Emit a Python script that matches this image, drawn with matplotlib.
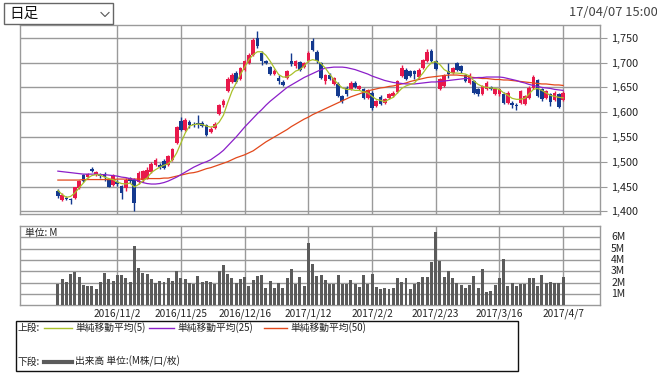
import matplotlib
matplotlib.use("Agg")
import matplotlib.pyplot as plt
from matplotlib.lines import Line2D
from matplotlib.patches import Rectangle
import numpy as np

plt.rcParams['font.family'] = ['Noto Sans CJK JP', 'DejaVu Sans']

# ---------------- data ----------------
opens = [1440,1422,1427,1424,1427,1447,1474,1469,1486,1474,
         1475,1474,1464,1454,1459,1451,1447,1467,1464,1459,
         1464,1467,1479,1494,1494,1501,1494,1504,1538,1582,
         1565,1580,1577,1579,1579,1575,1560,1568,1597,1614,
         1642,1661,1679,1666,1686,1699,1716,1750,1720,1704,
         1691,1678,1670,1661,1669,1703,1693,1701,1691,1703,
         1743,1722,1700,1662,1676,1657,1657,1632,1649,1646,
         1659,1646,1646,1629,1639,1612,1631,1619,1629,1632,
         1640,1673,1686,1684,1683,1671,1689,1703,1724,1703,
         1646,1652,1684,1679,1700,1693,1675,1659,1662,1646,
         1636,1646,1650,1637,1636,1637,1619,1619,1615,1619,
         1617,1629,1649,1664,1646,1629,1636,1625,1636,1625]
highs = [1445,1436,1430,1426,1450,1464,1476,1478,1489,1481,
         1478,1479,1466,1476,1463,1453,1467,1470,1468,1482,
         1484,1490,1500,1508,1497,1505,1513,1528,1573,1590,
         1588,1585,1580,1594,1582,1577,1570,1580,1617,1626,
         1671,1679,1683,1692,1706,1719,1749,1763,1723,1706,
         1693,1687,1675,1664,1686,1720,1706,1704,1702,1723,
         1749,1725,1702,1678,1680,1671,1660,1634,1652,1663,
         1662,1655,1649,1646,1642,1625,1634,1628,1639,1642,
         1665,1696,1689,1686,1686,1689,1708,1727,1728,1705,
         1669,1678,1700,1692,1702,1696,1678,1679,1665,1649,
         1655,1663,1653,1649,1648,1640,1642,1622,1618,1645,
         1635,1652,1675,1667,1649,1645,1639,1642,1639,1642]
lows = [1426,1420,1422,1414,1425,1445,1459,1467,1479,1472,
        1468,1461,1448,1452,1452,1424,1440,1458,1401,1455,
        1460,1465,1477,1492,1486,1485,1492,1502,1535,1562,
        1562,1568,1571,1568,1570,1551,1558,1566,1595,1611,
        1640,1658,1659,1664,1684,1697,1713,1730,1696,1698,
        1676,1676,1657,1652,1667,1693,1690,1684,1689,1701,
        1724,1700,1667,1656,1664,1655,1630,1618,1633,1644,
        1648,1644,1627,1627,1605,1610,1614,1617,1627,1630,
        1638,1671,1664,1671,1666,1669,1687,1701,1702,1686,
        1644,1650,1669,1677,1684,1680,1660,1657,1636,1632,
        1634,1644,1644,1635,1633,1617,1617,1609,1605,1617,
        1615,1627,1647,1630,1623,1627,1612,1623,1609,1623]
closes = [1430,1433,1424,1422,1448,1462,1461,1476,1481,1479,
          1471,1469,1450,1474,1456,1437,1464,1461,1417,1478,
          1481,1484,1496,1504,1489,1488,1511,1525,1570,1565,
          1585,1575,1574,1576,1572,1553,1567,1577,1614,1622,
          1668,1676,1661,1689,1703,1716,1746,1733,1703,1700,
          1678,1684,1662,1654,1684,1697,1703,1686,1699,1720,
          1726,1703,1669,1676,1666,1669,1632,1623,1636,1659,
          1650,1652,1629,1644,1609,1622,1617,1626,1636,1639,
          1662,1690,1666,1673,1677,1686,1705,1722,1704,1688,
          1666,1675,1677,1689,1686,1683,1662,1676,1639,1636,
          1652,1659,1646,1646,1646,1619,1639,1614,1613,1642,
          1632,1649,1671,1632,1626,1642,1621,1639,1611,1639]

ma5 = [1442,1434,1428,1430,1437,1447,1457,1467,1472,1474,
       1473,1469,1466,1464,1459,1456,1455,1457,1449,1454,
       1461,1467,1478,1484,1489,1493,1496,1504,1518,1538,
       1558,1572,1575,1576,1575,1572,1570,1572,1580,1594,
       1619,1642,1659,1676,1691,1706,1716,1722,1722,1715,
       1703,1689,1676,1671,1671,1676,1683,1686,1693,1703,
       1706,1704,1698,1689,1677,1666,1657,1649,1646,1646,
       1644,1644,1641,1639,1632,1626,1624,1621,1626,1630,
       1639,1648,1653,1656,1659,1669,1679,1691,1700,1702,
       1696,1686,1681,1679,1679,1678,1677,1673,1663,1656,
       1652,1650,1649,1648,1646,1639,1634,1628,1626,1626,
       1628,1637,1646,1648,1644,1639,1634,1632,1630,1629]
ma25 = [1481,1480,1479,1478,1477,1476,1475,1475,1475,1475,
        1474,1474,1473,1472,1471,1469,1468,1466,1464,1461,
        1458,1456,1455,1455,1456,1458,1461,1465,1469,1474,
        1479,1484,1489,1493,1497,1500,1504,1510,1516,1523,
        1532,1541,1550,1560,1570,1579,1588,1597,1605,1614,
        1622,1629,1636,1643,1650,1655,1660,1665,1670,1674,
        1678,1682,1686,1689,1690,1691,1691,1691,1690,1688,
        1686,1683,1680,1677,1673,1670,1667,1664,1662,1660,
        1659,1658,1657,1657,1657,1658,1659,1660,1661,1661,
        1662,1663,1664,1665,1666,1667,1668,1668,1669,1670,
        1670,1671,1671,1671,1671,1670,1668,1666,1664,1661,
        1659,1656,1654,1652,1650,1649,1648,1646,1645,1644]
ma50 = [1463,1463,1463,1463,1463,1463,1464,1464,1464,1464,
        1464,1464,1464,1464,1465,1465,1465,1465,1465,1465,
        1465,1466,1466,1466,1466,1467,1467,1469,1471,1473,
        1475,1477,1478,1480,1483,1486,1488,1491,1494,1497,
        1500,1504,1508,1511,1514,1518,1522,1528,1534,1540,
        1545,1550,1555,1560,1565,1571,1576,1581,1586,1590,
        1595,1599,1603,1607,1611,1615,1619,1623,1627,1631,
        1634,1637,1640,1643,1645,1647,1649,1650,1652,1653,
        1655,1657,1659,1662,1664,1666,1668,1670,1671,1672,
        1673,1674,1675,1675,1675,1674,1673,1671,1670,1669,
        1668,1668,1667,1666,1666,1665,1665,1664,1663,1662,
        1661,1660,1659,1658,1657,1657,1656,1655,1655,1654]

volume_m = [1.88,2.3,2.06,2.76,2.97,2.5,1.8,1.7,1.7,1.44,
            2.06,2.85,2.3,2.15,2.68,2.68,2.4,2.06,5.24,3.3,
            2.85,2.76,2.3,1.97,2.15,2.06,2.4,2.15,3.03,2.4,
            2.3,1.97,1.88,2.6,2.06,2.15,2.06,1.88,3.03,3.56,
            2.76,2.4,1.97,2.3,2.5,1.7,2.24,2.6,2.68,1.53,
            2.15,1.53,1.97,1.53,2.4,3.2,1.88,2.5,1.7,5.5,
            3.65,2.6,2.68,2.24,1.88,1.9,2.7,1.9,1.9,2.2,
            1.9,1.6,2.7,1.9,2.8,1.6,1.4,1.5,1.4,1.5,
            2.4,2.1,2.4,1.4,1.9,2.1,2.5,2.5,3.8,6.5,
            3.9,2.5,3.0,2.4,2.0,1.8,1.5,1.8,2.6,1.5,
            3.2,1.2,1.3,1.8,2.4,4.1,1.7,2.0,1.7,1.9,
            1.9,2.4,2.4,1.7,2.7,2.0,2.1,2.0,2.0,2.5]

date_tick_index = [14, 29, 44, 59, 74, 89, 104, 119]
date_tick_labels = ['2016/11/2', '2016/11/25', '2016/12/16', '2017/1/12',
                    '2017/2/2', '2017/2/23', '2017/3/16', '2017/4/7']
price_ticks = [1400, 1450, 1500, 1550, 1600, 1650, 1700, 1750]
volume_ticks = [1, 2, 3, 4, 5, 6]

# ---------------- style ----------------
RED = '#e8194b'
BLUE = '#14398f'
C_MA5 = '#a9c12a'
C_MA25 = '#8b1fc9'
C_MA50 = '#e2481b'
GRID = '#9a9a9a'
VOLC = '#5b5b5b'

W, H = 657, 375
fig = plt.figure(figsize=(W / 100, H / 100), dpi=100)
fig.patch.set_facecolor('white')


def fx(px):
    return px / W


def fy(py):
    return 1 - py / H


ax = fig.add_axes([fx(20), fy(214), 580 / W, 189 / H])
axv = fig.add_axes([fx(20), fy(305.3), 580 / W, 79.3 / H])

o = np.array(opens, float)
h = np.array(highs, float)
l = np.array(lows, float)
c = np.array(closes, float)
idx = np.arange(len(c))
cols = np.where(c >= o, RED, BLUE)

ax.vlines(idx, l, h, colors=cols, linewidth=1.0, zorder=3)
ax.bar(idx, np.maximum(np.abs(c - o), 1.5), bottom=np.minimum(o, c),
       width=0.86, color=cols, linewidth=0, zorder=3)
ax.plot(idx, ma50, color=C_MA50, lw=0.9, zorder=4)
ax.plot(idx, ma25, color=C_MA25, lw=0.9, zorder=4)
ax.plot(idx, ma5, color=C_MA5, lw=0.9, zorder=4)

xl = (-8.92, 127.7)
for a in (ax, axv):
    a.set_xlim(*xl)
    a.set_xticks(date_tick_index)
    a.grid(True, color=GRID, lw=1.0, zorder=0)
    a.set_axisbelow(True)
    for s in a.spines.values():
        s.set_color(GRID)
        s.set_linewidth(1.0)
    a.yaxis.tick_right()
    a.set_facecolor('white')

ax.set_ylim(1394.5, 1776)
ax.set_yticks(price_ticks)
ax.set_yticklabels([f'{v:,}' for v in price_ticks])
ax.tick_params(axis='y', direction='out', length=5, color=GRID,
               labelsize=7.8, pad=3, labelcolor='#222222')
ax.tick_params(axis='x', length=0, labelbottom=False)

axv.bar(idx, volume_m, width=0.7, color=VOLC, linewidth=0, zorder=3)
axv.set_ylim(0, 7)
axv.set_yticks(volume_ticks)
axv.set_yticklabels([f'{v}M' for v in volume_ticks])
axv.tick_params(axis='y', length=0, labelsize=7.5, pad=8, labelcolor='#222222')
axv.set_xticklabels(date_tick_labels)
axv.tick_params(axis='x', length=0, labelsize=7.3, pad=2, labelcolor='#222222')
for t in axv.get_yticklabels():
    t.set_verticalalignment('center')

fig.text(fx(25), fy(233), '単位: M', fontsize=7, ha='left', va='center', color='#222222')

# legend box
fig.add_artist(Rectangle((fx(16), fy(371)), 502 / W, 50 / H, transform=fig.transFigure,
                         fill=False, edgecolor='#111111', lw=1.0))
ly1, ly2 = fy(327.7), fy(361.7)
fig.text(fx(18), ly1, '上段:', fontsize=7, va='center', ha='left', color='#222222')
fig.text(fx(18), ly2, '下段:', fontsize=7, va='center', ha='left', color='#222222')
for (x0, x1, col, label) in [(44, 72, C_MA5, '単純移動平均(5)'),
                             (149, 174, C_MA25, '単純移動平均(25)'),
                             (264, 287, C_MA50, '単純移動平均(50)')]:
    fig.add_artist(Line2D([fx(x0), fx(x1)], [ly1, ly1], color=col, lw=1.0,
                          transform=fig.transFigure))
    fig.text(fx(x1 + 3), ly1, label, fontsize=7, va='center', ha='left', color='#222222')
fig.add_artist(Line2D([fx(44), fx(72)], [ly2, ly2], color=VOLC, lw=3.0,
                      transform=fig.transFigure))
fig.text(fx(75), ly2, '出来高 単位:(M株/口/枚)', fontsize=7, va='center', ha='left',
         color='#222222')

# dropdown selector
fig.add_artist(Rectangle((fx(4), fy(24)), 109 / W, 21 / H, transform=fig.transFigure,
                         fill=False, edgecolor='#666666', lw=1.0))
fig.text(fx(9), fy(14), '日足', fontsize=10.5, va='center', ha='left', color='#111111')
fig.add_artist(Line2D([fx(101), fx(105), fx(109)], [fy(12.5), fy(16.5), fy(12.5)],
                      color='#555555', lw=0.8, transform=fig.transFigure))

fig.text(fx(569), fy(13), '17/04/07 15:00', fontsize=9.3, va='center', ha='left',
         color='#444444')

fig.savefig('out.png', dpi=100, facecolor='white')
